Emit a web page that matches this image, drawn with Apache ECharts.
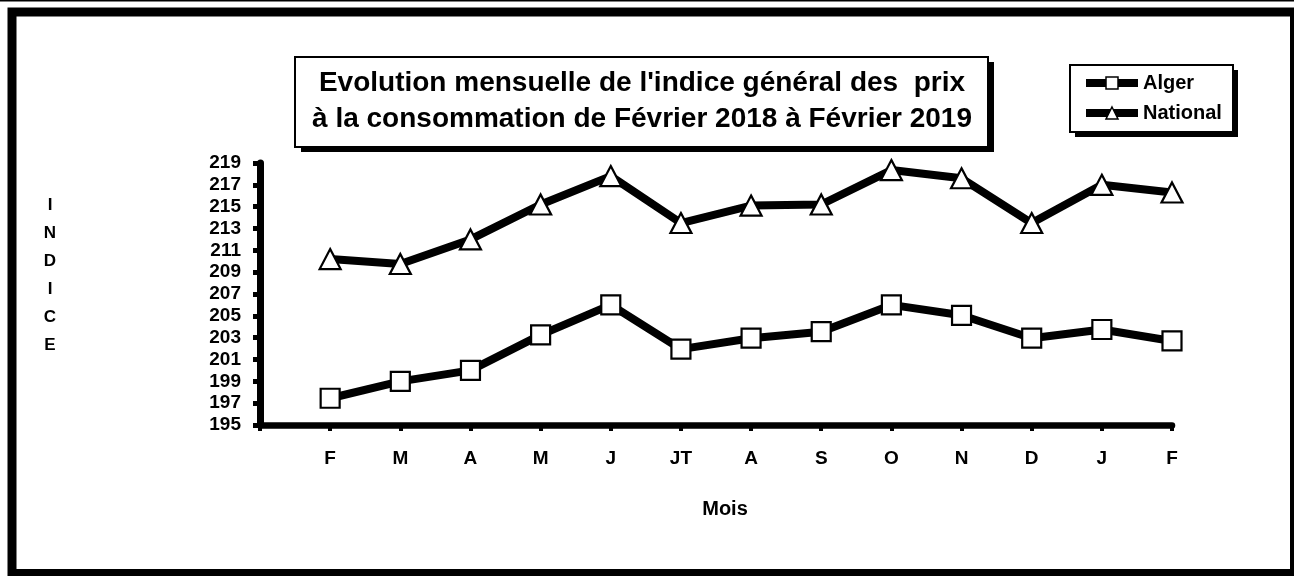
<!DOCTYPE html>
<html>
<head>
<meta charset="utf-8">
<script src="https://cdn.jsdelivr.net/npm/echarts@6/dist/echarts.min.js"></script>
<style>
html,body{margin:0;padding:0;background:#fff;}
#chart{width:1294px;height:576px;}
</style>
</head>
<body>
<div id="chart"></div>
<script>
// Categories (Feb 2018 -> Feb 2019)
const months = ['F', 'M', 'A', 'M', 'J', 'JT', 'A', 'S', 'O', 'N', 'D', 'J', 'F'];
// Series values
const alger = [197.45, 199.0, 200.0, 203.25, 206.0, 201.95, 202.95, 203.55, 206.0, 205.05, 202.95, 203.75, 202.7];
const national = [210.2, 209.75, 212.0, 215.2, 217.8, 213.5, 215.1, 215.2, 218.35, 217.6, 213.5, 217.0, 216.3];
// Axis settings
const yMin = 195, yMax = 219, yStep = 2;
const titleLines = ["Evolution mensuelle de l'indice général des  prix", "à la consommation de Février 2018 à Février 2019"];
const yName = 'INDICE';
const xName = 'Mois';
const seriesNames = ['Alger', 'National'];

const FONT = "'Liberation Sans', Arial, sans-serif";
// first category is left empty (axis starts one step before February)
const axisCats = [''].concat(months);

const chart = echarts.init(document.getElementById('chart'), null, {renderer: 'canvas'});
const option = {
  backgroundColor: '#ffffff',
  animation: false,
  grid: {left: 260, right: 122, top: 163, bottom: 151},
  xAxis: {
    type: 'category',
    data: axisCats,
    boundaryGap: false,
    name: xName,
    nameLocation: 'middle',
    nameGap: 74,
    nameTextStyle: {fontFamily: FONT, fontWeight: 'bold', fontSize: 20, color: '#000', padding: [0, 0, 0, 18]},
    axisLine: {show: true, lineStyle: {color: '#000', width: 6.5}},
    axisTick: {show: true, length: 6, lineStyle: {color: '#000', width: 4}},
    axisLabel: {margin: 24, fontFamily: FONT, fontWeight: 'bold', fontSize: 19, color: '#000'},
    splitLine: {show: false}
  },
  yAxis: {
    type: 'value',
    min: yMin, max: yMax, interval: yStep,
    axisLine: {show: true, lineStyle: {color: '#000', width: 7}},
    axisTick: {show: true, length: 7, lineStyle: {color: '#000', width: 5}},
    axisLabel: {margin: 19, fontFamily: FONT, fontWeight: 'bold', fontSize: 19, color: '#000'},
    splitLine: {show: false}
  },
  legend: {
    orient: 'vertical',
    left: 1082, top: 73,
    padding: 0,
    itemWidth: 52, itemHeight: 15, itemGap: 10,
    data: seriesNames,
    textStyle: {fontFamily: FONT, fontWeight: 'bold', fontSize: 20, color: '#000', lineHeight: 20},
    lineStyle: {width: 8, color: '#000'},
    itemStyle: {color: '#fff', borderColor: '#000', borderWidth: 1.5}
  },
  series: [
    {
      name: seriesNames[0], type: 'line',
      data: [null].concat(alger),
      symbol: 'rect', symbolSize: 19,
      lineStyle: {color: '#000', width: 8},
      itemStyle: {color: '#fff', borderColor: '#000', borderWidth: 2.2},
      z: 3
    },
    {
      name: seriesNames[1], type: 'line',
      data: [null].concat(national),
      symbol: 'triangle', symbolSize: [21, 20],
      lineStyle: {color: '#000', width: 8},
      itemStyle: {color: '#fff', borderColor: '#000', borderWidth: 2.2},
      z: 3
    }
  ],
  graphic: [
    // thin top line
    {type: 'rect', shape: {x: 0, y: 0, width: 1294, height: 1.5}, style: {fill: '#000'}, z: 0},
    // outer frame
    {type: 'rect', shape: {x: 12, y: 12, width: 1282.5, height: 561.5}, style: {fill: null, stroke: '#000', lineWidth: 9}, z: 0},
    // title box shadow + box
    {type: 'rect', shape: {x: 301, y: 62, width: 693, height: 90}, style: {fill: '#000'}, z: 1},
    {type: 'rect', shape: {x: 295, y: 57, width: 693, height: 90}, style: {fill: '#fff', stroke: '#000', lineWidth: 2}, z: 2},
    {type: 'text', x: 642, y: 101, z: 3,
      style: {text: titleLines.join('\n'), textAlign: 'center', textVerticalAlign: 'middle',
        font: 'bold 28px ' + FONT, lineHeight: 36, fill: '#000'}},
    // legend box shadow + box
    {type: 'rect', shape: {x: 1075, y: 70, width: 163, height: 67}, style: {fill: '#000'}, z: 1},
    {type: 'rect', shape: {x: 1070, y: 65, width: 163, height: 67}, style: {fill: '#fff', stroke: '#000', lineWidth: 2}, z: 2},
    // y axis title, stacked letters
    {type: 'text', x: 50, y: 275, z: 3,
      style: {text: yName.split('').join('\n'), textAlign: 'center', textVerticalAlign: 'middle',
        font: 'bold 17px ' + FONT, lineHeight: 28, fill: '#000'}}
  ]
};
chart.setOption(option);
</script>
</body>
</html>
